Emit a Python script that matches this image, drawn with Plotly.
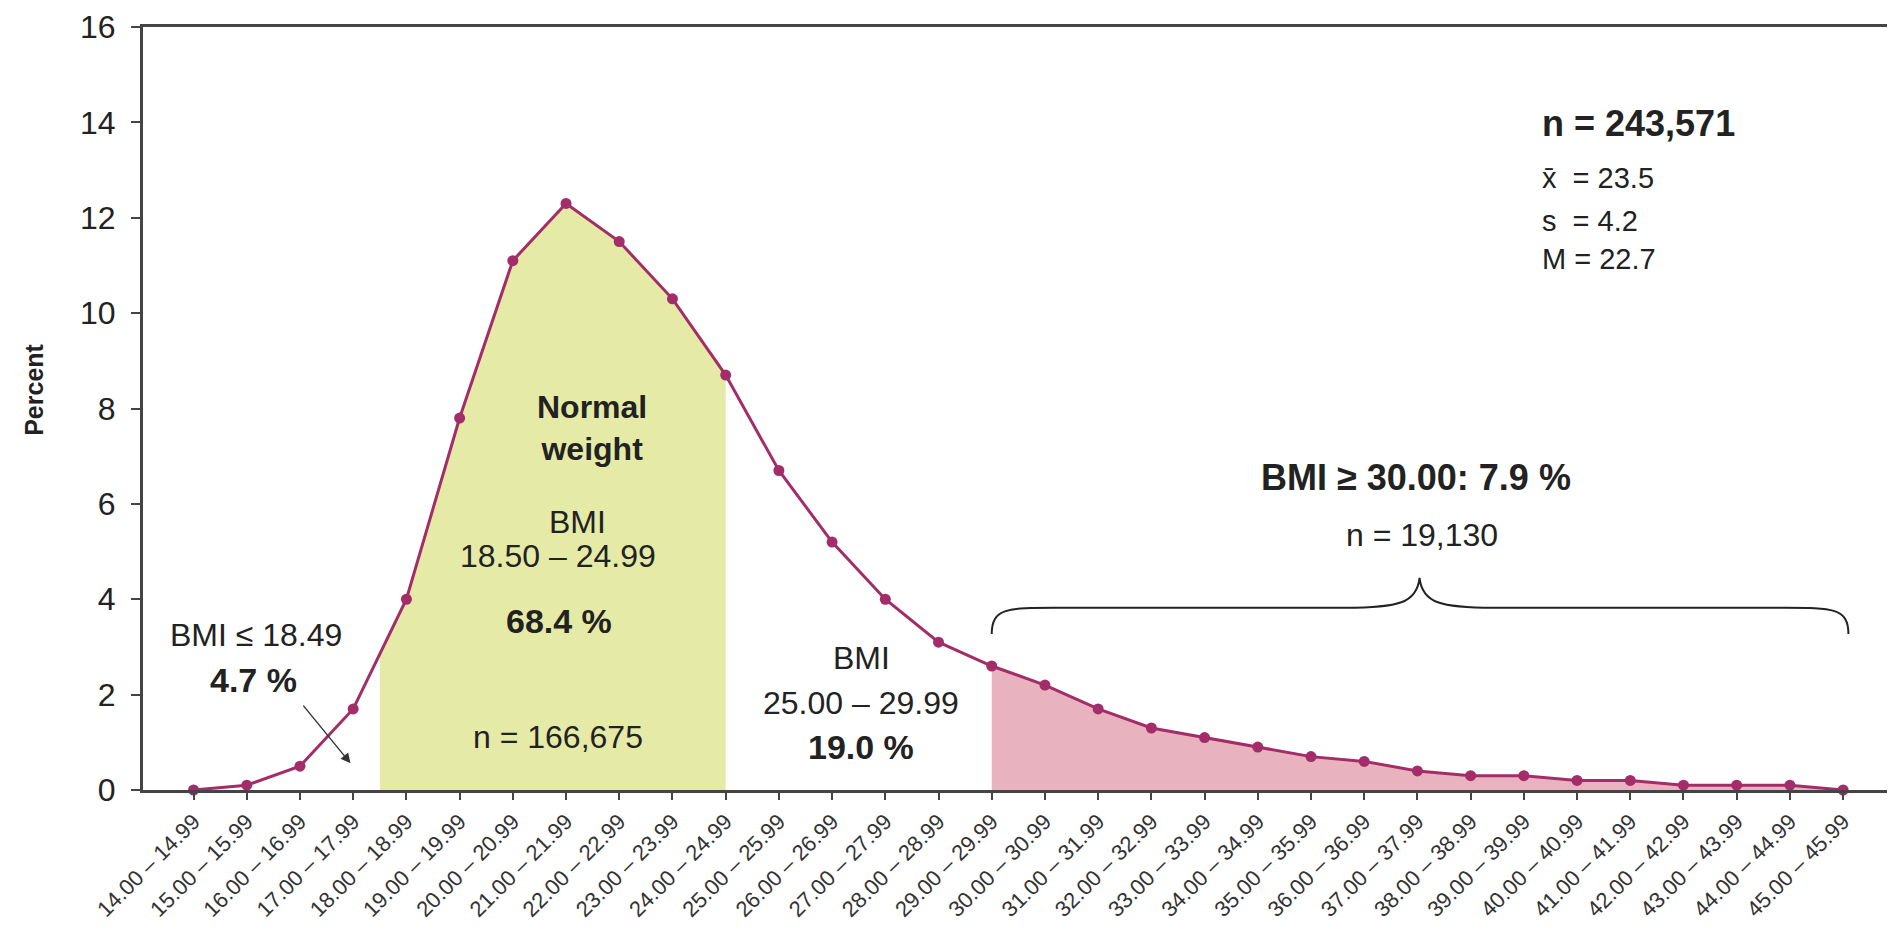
import numpy as np
import plotly.graph_objects as go

# BMI classes (kg/m2) and share of the sample in percent
bmi_classes = [f"{b:.2f} – {b + 0.99:.2f}" for b in range(14, 46)]
percent = [0.0, 0.1, 0.5, 1.7, 4.0, 7.8, 11.1, 12.3, 11.5, 10.3, 8.7, 6.7, 5.2, 4.0, 3.1, 2.6,
           2.2, 1.7, 1.3, 1.1, 0.9, 0.7, 0.6, 0.4, 0.3, 0.3, 0.2, 0.2, 0.1, 0.1, 0.1, 0.0]

stats_lines = ["<b>n = 243,571</b>", "x\u0304  = 23.5", "s  = 4.2", "M = 22.7"]

LINE = "#a22d68"
GREEN = "#e5eaa7"
PINK = "#e8b3be"
FONT = "Liberation Sans, Arial, sans-serif"
REG, BOLD = 32, 34

x = np.arange(len(percent))
y = np.array(percent)

# normal weight band: BMI 18.50 (between classes 3 and 4) up to the 24.00 class
g_start = 3.5
g_x = np.concatenate([[g_start], x[(x > g_start) & (x <= 10)]])
g_y = np.interp(g_x, x, y)
# obesity band: from the 29.00 class to the end
o_x = x[x >= 15]
o_y = y[x >= 15]

fig = go.Figure()
fig.add_trace(go.Scatter(x=g_x, y=g_y, fill="tozeroy", mode="none", fillcolor=GREEN,
                         hoverinfo="skip"))
fig.add_trace(go.Scatter(x=o_x, y=o_y, fill="tozeroy", mode="none", fillcolor=PINK,
                         hoverinfo="skip"))
fig.add_trace(go.Scatter(x=x, y=y, mode="lines+markers",
                         line=dict(color=LINE, width=3),
                         marker=dict(color=LINE, size=11),
                         cliponaxis=False))

anns = []

def txt(xv, yv, s, size=REG, **kw):
    anns.append(dict(x=xv, y=yv, text=s, showarrow=False,
                     font=dict(family=FONT, size=size, color="#222"), **kw))

# stats block
for i, (s, yy) in enumerate(zip(stats_lines, [13.97, 12.83, 11.94, 11.14])):
    txt(25.3, yy, s, size=36 if i == 0 else 29, xanchor="left")

txt(7.49, 7.6, "<b>Normal<br>weight</b>", size=32)
txt(7.22, 5.62, "BMI")
txt(6.85, 4.91, "18.50 – 24.99")
txt(6.87, 3.54, "<b>68.4 %</b>", size=BOLD)
txt(6.85, 1.11, "n = 166,675")

txt(1.18, 3.24, "BMI \u2264 18.49")
txt(1.13, 2.30, "<b>4.7 %</b>", size=BOLD)
anns.append(dict(x=2.95, y=0.56, ax=2.04, ay=1.8, xref="x", yref="y", axref="x", ayref="y",
                 text="", showarrow=True, arrowhead=2, arrowsize=1.4, arrowwidth=1.4,
                 arrowcolor="#333"))

txt(12.55, 2.76, "BMI")
txt(12.55, 1.82, "25.00 – 29.99")
txt(12.55, 0.91, "<b>19.0 %</b>", size=BOLD)

txt(22.97, 6.56, "<b>BMI \u2265 30.00: 7.9 %</b>", size=36)
txt(23.08, 5.34, "n = 19,130")

# curly brace over the obesity classes
bx0, bx1, bm = 15.0, 31.1, 23.04
yb, yh, yp = 3.27, 3.82, 4.45
brace = (f"M {bx0} {yb} C {bx0} {yh} {bx0 + 0.3} {yh} {bx0 + 1.2} {yh} "
         f"L {bm - 1.4} {yh} C {bm - 0.4} {yh} {bm - 0.05} {yh + 0.1} {bm} {yp} "
         f"C {bm + 0.05} {yh + 0.1} {bm + 0.4} {yh} {bm + 1.4} {yh} "
         f"L {bx1 - 1.2} {yh} C {bx1 - 0.3} {yh} {bx1} {yh} {bx1} {yb}")

fig.update_layout(
    width=1885, height=920,
    margin=dict(l=135, r=2, t=19, b=138),
    paper_bgcolor="white", plot_bgcolor="white",
    showlegend=False,
    font=dict(family=FONT, color="#222"),
    annotations=anns + [dict(x=-0.062, y=0.524, xref="paper", yref="paper",
                             xanchor="center", yanchor="middle",
                             text="<b>Percent</b>", textangle=-90, showarrow=False,
                             font=dict(family=FONT, size=25, color="#222"))],
    shapes=[dict(type="path", path=brace, xref="x", yref="y",
                 line=dict(color="#222", width=2))],
    xaxis=dict(range=[-0.95, 31.9], tickmode="array", tickvals=list(x), ticktext=bmi_classes,
               tickangle=-45, ticks="outside", ticklen=7, tickcolor="#444", tickwidth=2,
               tickfont=dict(family=FONT, size=22, color="#333"), automargin=False,
               showline=True, linecolor="#444", linewidth=3, mirror=True,
               showgrid=False, zeroline=False),
    yaxis=dict(range=[0, 16], dtick=2, ticks="outside", ticklen=9, tickcolor="#444",
               tickwidth=2, ticklabelstandoff=9, automargin=False,
               tickfont=dict(family=FONT, size=32, color="#222"),
               showline=True, linecolor="#444", linewidth=3, mirror=True,
               showgrid=False, zeroline=False),
)

fig.write_html("out.html")
